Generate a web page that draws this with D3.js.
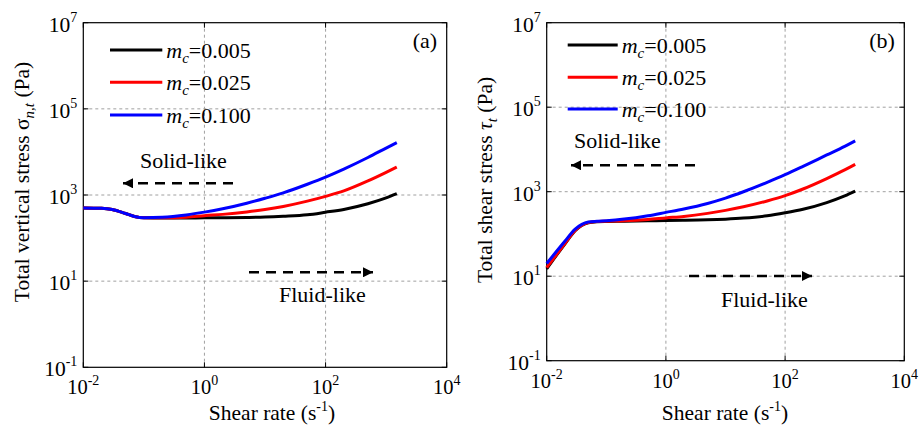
<!DOCTYPE html>
<html><head><meta charset="UTF-8"><script src="https://d3js.org/d3.v7.min.js"></script></head>
<body style="margin:0">
<script>

    // shear rate samples (s^-1)
    const shearRate = [0.01, 0.02, 0.03, 0.05, 0.07, 0.1, 0.2, 0.5, 1, 2, 5, 10, 20, 50, 100, 200, 500, 1000, 1500];

    // (a) total vertical stress (Pa)
    const sigma005 = [500, 492, 462, 372, 318, 296, 292, 293, 295, 297, 301, 307, 320, 347, 398, 463, 627, 855, 1070];
    const sigma025 = [500, 492, 462, 372, 318, 296, 295, 305, 331, 355, 404, 460, 543, 721, 931, 1245, 2118, 3350, 4450];
    const sigma100 = [500, 492, 462, 372, 318, 298, 305, 345, 400, 479, 646, 841, 1122, 1778, 2600, 3981, 7413, 12300, 16500];

    // (b) total shear stress (Pa)
    const tau005 = [15, 57, 120, 185, 195, 198, 200, 204, 209, 211, 216, 224, 237, 269, 316, 384, 553, 794, 1030];
    const tau025 = [16, 58, 121, 186, 197, 200, 205, 220, 240, 260, 307, 361, 439, 604, 807, 1159, 2046, 3281, 4450];
    const tau100 = [20, 66, 130, 192, 200, 206, 225, 270, 324, 390, 527, 705, 997, 1667, 2530, 3980, 7400, 11800, 16000];

    const seriesLabels = ['0.005', '0.025', '0.100'];
    const seriesColors = ['#000000', '#ff0000', '#0000ff'];

    const xTicks = [-2, 0, 2, 4];       // exponents
    const yTicks = [-1, 1, 3, 5, 7];    // exponents

    const width = 921, height = 431;

    const svg = d3.select('body').append('svg')
        .attr('width', width)
        .attr('height', height);

    svg.append('rect').attr('width', width).attr('height', height).attr('fill', '#fff');

    svg.append('defs').append('marker')
        .attr('id', 'head')
        .attr('viewBox', '0 0 10 10')
        .attr('refX', 10).attr('refY', 5)
        .attr('markerWidth', 7).attr('markerHeight', 4)
        .attr('markerUnits', 'strokeWidth')
        .attr('orient', 'auto')
        .append('path').attr('d', 'M0,0 L10,5 L0,10 Z').attr('fill', '#000');

    function txt(sel, size) {
        return sel.append('text')
            .style('font-family', '"Liberation Serif"')
            .style('font-size', size + 'px');
    }

    function drawPanel(p) {
        const [x0, y0, x1, y1] = p.box;
        const x = d3.scaleLog().domain([1e-2, 1e4]).range([x0, x1]);
        const y = d3.scaleLog().domain([1e-1, 1e7]).range([y1, y0]);

        // grid
        svg.selectAll(null).data(xTicks.slice(1, -1)).enter().append('line')
            .attr('x1', d => x(Math.pow(10, d))).attr('x2', d => x(Math.pow(10, d)))
            .attr('y1', y0).attr('y2', y1)
            .attr('stroke', '#a0a0a0').attr('stroke-width', 1).attr('stroke-dasharray', '3,3');
        svg.selectAll(null).data(yTicks.slice(1, -1)).enter().append('line')
            .attr('y1', d => y(Math.pow(10, d))).attr('y2', d => y(Math.pow(10, d)))
            .attr('x1', x0).attr('x2', x1)
            .attr('stroke', '#a0a0a0').attr('stroke-width', 1).attr('stroke-dasharray', '3,3');

        // inward ticks on all sides
        xTicks.forEach(d => {
            const px = x(Math.pow(10, d));
            svg.append('line').attr('x1', px).attr('x2', px).attr('y1', y1).attr('y2', y1 - 5).attr('stroke', '#000');
            svg.append('line').attr('x1', px).attr('x2', px).attr('y1', y0).attr('y2', y0 + 5).attr('stroke', '#000');
        });
        yTicks.forEach(d => {
            const py = y(Math.pow(10, d));
            svg.append('line').attr('x1', x0).attr('x2', x0 + 5).attr('y1', py).attr('y2', py).attr('stroke', '#000');
            svg.append('line').attr('x1', x1).attr('x2', x1 - 5).attr('y1', py).attr('y2', py).attr('stroke', '#000');
        });

        svg.append('rect')
            .attr('x', x0).attr('y', y0).attr('width', x1 - x0).attr('height', y1 - y0)
            .attr('fill', 'none').attr('stroke', '#000').attr('stroke-width', 1.2);

        // tick labels
        xTicks.forEach(d => {
            const t = txt(svg, 20.5)
                .attr('x', x(Math.pow(10, d))).attr('y', y1 + 27)
                .attr('text-anchor', 'middle');
            t.append('tspan').text('10');
            t.append('tspan').attr('dy', -9).style('font-size', '14px').text(d);
        });
        yTicks.forEach(d => {
            const t = txt(svg, 21.5)
                .attr('x', x0 - 6).attr('y', y(Math.pow(10, d)) + 9)
                .attr('text-anchor', 'end');
            t.append('tspan').text('10');
            t.append('tspan').attr('dy', -10).style('font-size', '14px').text(d);
        });

        // curves
        const line = d3.line()
            .x((d, i) => x(shearRate[i]))
            .y(d => y(d))
            .curve(d3.curveMonotoneX);
        p.series.forEach((s, i) => {
            svg.append('path').datum(s)
                .attr('d', line)
                .attr('fill', 'none')
                .attr('stroke', seriesColors[i])
                .attr('stroke-width', 3);
        });

        // legend
        seriesLabels.forEach((lab, i) => {
            const ly = p.legendY[i];
            svg.append('line')
                .attr('x1', p.legendX[0]).attr('x2', p.legendX[1])
                .attr('y1', ly).attr('y2', ly)
                .attr('stroke', seriesColors[i]).attr('stroke-width', 3);
            const t = txt(svg, 22).attr('x', p.legendX[1] + 4).attr('y', ly + 7.5);
            t.append('tspan').style('font-style', 'italic').text('m');
            t.append('tspan').attr('dy', 5).style('font-style', 'italic').style('font-size', '15px').text('c');
            t.append('tspan').attr('dy', -5).text('=' + lab);
        });

        txt(svg, 22).attr('x', p.labelX).attr('y', p.labelY)
            .attr('text-anchor', 'middle').text(p.label);

        // axis titles
        const yt = txt(svg, 21.5)
            .attr('transform', 'translate(' + [p.yTitleX, p.yTitleY] + ') rotate(-90)')
            .attr('text-anchor', 'middle');
        if (p.yTitle === 'sigma') {
            yt.append('tspan').text('Total vertical stress σ');
            yt.append('tspan').attr('dy', 5).style('font-size', '15px').style('font-style', 'italic').text('n,t');
            yt.append('tspan').attr('dy', -5).text(' (Pa)');
        } else {
            yt.append('tspan').text('Total shear stress ');
            yt.append('tspan').style('font-style', 'italic').text('τ');
            yt.append('tspan').attr('dy', 5).style('font-size', '15px').style('font-style', 'italic').text('t');
            yt.append('tspan').attr('dy', -5).text(' (Pa)');
        }

        const xt = txt(svg, 21.5)
            .attr('x', p.xTitleX).attr('y', 420)
            .attr('text-anchor', 'middle');
        xt.append('tspan').text('Shear rate (s');
        xt.append('tspan').attr('dy', -9).style('font-size', '14px').text('-1');
        xt.append('tspan').attr('dy', 9).text(')');

        // annotations
        [['Solid-like', p.solid], ['Fluid-like', p.fluid]].forEach(([label, a]) => {
            txt(svg, 22).attr('x', a.tx).attr('y', a.ty).text(label);
            svg.append('line')
                .attr('x1', a.x1).attr('x2', a.x2).attr('y1', a.y).attr('y2', a.y)
                .attr('stroke', '#000').attr('stroke-width', 2.5)
                .attr('stroke-dasharray', '10,7')
                .attr('marker-end', 'url(#head)');
        });
    }

    drawPanel({
        box: [83.3, 22.7, 446.7, 367.3],
        series: [sigma005, sigma025, sigma100],
        label: '(a)', labelX: 425, labelY: 48,
        legendX: [110, 162.3], legendY: [50, 82.3, 115],
        yTitle: 'sigma', yTitleX: 28.5, yTitleY: 182,
        xTitleX: 272,
        solid: {tx: 140, ty: 168, x1: 233, x2: 123, y: 183.3},
        fluid: {tx: 279, ty: 302, x1: 249, x2: 373, y: 272.3}
    });

    drawPanel({
        box: [546.7, 22.7, 904.3, 360.7],
        series: [tau005, tau025, tau100],
        label: '(b)', labelX: 882, labelY: 48,
        legendX: [567.7, 617.7], legendY: [45, 77.3, 109],
        yTitle: 'tau', yTitleX: 492, yTitleY: 180,
        xTitleX: 725,
        solid: {tx: 574, ty: 148, x1: 695, x2: 571, y: 165.3},
        fluid: {tx: 721, ty: 306.7, x1: 689, x2: 812, y: 276}
    });

</script>
</body>
</html>
